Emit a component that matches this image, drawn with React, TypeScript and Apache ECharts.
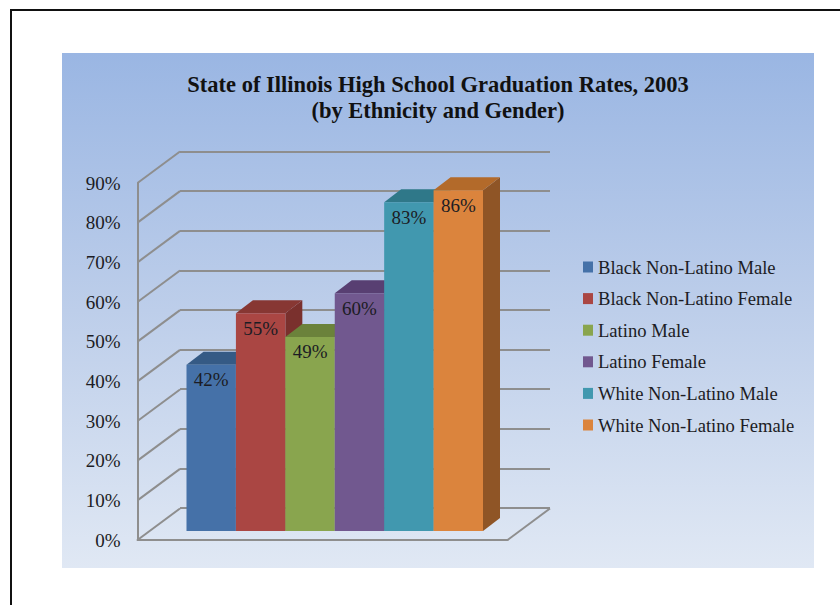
import React, { useEffect, useRef } from "react";
import * as echarts from "echarts";

const titleText = "State of Illinois High School Graduation Rates, 2003\n(by Ethnicity and Gender)";
const groups = [
  "Black Non-Latino Male",
  "Black Non-Latino Female",
  "Latino Male",
  "Latino Female",
  "White Non-Latino Male",
  "White Non-Latino Female",
];
const rates = [42, 55, 49, 60, 83, 86];
const tickValues = [0, 10, 20, 30, 40, 50, 60, 70, 80, 90];
const frontColors = ["#4571A8", "#AA4643", "#89A54E", "#71588F", "#4198AF", "#DB843D"];
const topColors = ["#355A85", "#873733", "#6B823B", "#583F72", "#2F7889", "#B36A2A"];
const sideColors = ["#2F4F76", "#7A302D", "#5F7434", "#4E3866", "#2A6B7A", "#8F5526"];

const FONT = '"Liberation Serif", "Times New Roman", serif';
const GRAY = "#8E8E8E";
const WALL_DX = 42.5;
const WALL_DY = -31.5;
const BAR_DX = 17;
const BAR_DY = -13;

const valueAxisBase = { type: "value", min: 0, max: 90, interval: 10 };

export default function App() {
  const ref = useRef<HTMLDivElement>(null);

  useEffect(() => {
    const chart = echarts.init(ref.current!, null, { renderer: "svg" });

    const barSeries = groups.map((name, i) => ({
      type: "custom",
      name,
      xAxisIndex: 2,
      yAxisIndex: 2,
      z: 5 + i,
      clip: false,
      color: frontColors[i],
      itemStyle: { color: frontColors[i] },
      encode: { x: 0, y: 1 },
      data: [[i, rates[i]]],
      renderItem: (_p: any, api: any) => {
        const v = api.value(1);
        const [cx, top] = api.coord([api.value(0), v]);
        const [, base] = api.coord([api.value(0), 0]);
        const w = api.size([1, 0])[0];
        const x0 = cx - w / 2;
        const x1 = cx + w / 2;
        return {
          type: "group",
          children: [
            {
              type: "polygon",
              shape: { points: [[x1, base], [x1 + BAR_DX, base + BAR_DY], [x1 + BAR_DX, top + BAR_DY], [x1, top]] },
              style: { fill: sideColors[i] },
            },
            {
              type: "polygon",
              shape: { points: [[x0, top], [x0 + BAR_DX, top + BAR_DY], [x1 + BAR_DX, top + BAR_DY], [x1, top]] },
              style: { fill: topColors[i] },
            },
            { type: "rect", shape: { x: x0, y: top, width: w, height: base - top }, style: { fill: frontColors[i] } },
            {
              type: "text",
              x: cx,
              y: top + 15,
              style: {
                text: `${v}%`,
                fill: "#1c1c24",
                font: `19px ${FONT}`,
                align: "center",
                verticalAlign: "middle",
              },
            },
          ],
        };
      },
    }));

    chart.setOption({
      animation: false,
      color: frontColors,
      graphic: [
        {
          type: "rect",
          z: -10,
          shape: { x: 62, y: 53, width: 752, height: 515 },
          style: {
            fill: new echarts.graphic.LinearGradient(0, 0, 0, 1, [
              { offset: 0, color: "#9AB6E3" },
              { offset: 0.5, color: "#BDCEEA" },
              { offset: 1, color: "#E0E8F4" },
            ]),
          },
        },
        { type: "line", z: -10, shape: { x1: 10, y1: 10, x2: 840, y2: 10 }, style: { stroke: "#111", lineWidth: 2 } },
        { type: "line", z: -10, shape: { x1: 11, y1: 10, x2: 11, y2: 605 }, style: { stroke: "#111", lineWidth: 2 } },
      ],
      title: {
        text: titleText,
        left: 433,
        top: 66,
        textAlign: "center",
        textStyle: { fontFamily: FONT, fontSize: 22.5, fontWeight: "bold", color: "#111", lineHeight: 26 },
      },
      legend: {
        orient: "vertical",
        left: 583,
        top: 257,
        padding: 0,
        itemWidth: 10,
        itemHeight: 11,
        itemGap: 11.6,
        icon: "rect",
        data: groups,
        textStyle: { fontFamily: FONT, fontSize: 18.6, color: "#1c1c24", lineHeight: 20 },
      },
      grid: [
        { left: 137.5, top: 183, width: 370, height: 357 },
        { left: 180, top: 151.5, width: 370, height: 356.5 },
        { left: 186.5, top: 174.5, width: 296.5, height: 356.5 },
      ],
      xAxis: [
        {
          type: "category",
          gridIndex: 0,
          data: [""],
          axisLine: { show: true, lineStyle: { color: GRAY, width: 2 } },
          axisTick: { show: false },
          axisLabel: { show: false },
        },
        { type: "category", gridIndex: 1, data: [""], show: false },
        { type: "category", gridIndex: 2, data: groups, show: false },
      ],
      yAxis: [
        {
          ...valueAxisBase,
          gridIndex: 0,
          axisLine: { show: true, lineStyle: { color: GRAY, width: 2 } },
          axisTick: { show: false },
          splitLine: { show: false },
          axisLabel: {
            formatter: "{value}%",
            margin: 17,
            fontFamily: FONT,
            fontSize: 19,
            color: "#1c1c24",
            padding: [4, 0, 0, 0],
          },
        },
        {
          ...valueAxisBase,
          gridIndex: 1,
          axisLine: { show: false },
          axisTick: { show: false },
          axisLabel: { show: false },
          splitLine: { show: true, lineStyle: { color: GRAY, width: 2 } },
        },
        { ...valueAxisBase, gridIndex: 2, show: false, splitLine: { show: false } },
      ],
      series: [
        {
          type: "custom",
          name: "wall",
          xAxisIndex: 0,
          yAxisIndex: 0,
          z: 2,
          clip: false,
          silent: true,
          encode: { y: 0 },
          data: tickValues.map((t) => [t]),
          renderItem: (p: any, api: any) => {
            const [, y] = api.coord([0, api.value(0)]);
            const x = p.coordSys.x;
            const stroke = { stroke: GRAY, lineWidth: 2, fill: "none" };
            const children: any[] = [
              { type: "line", shape: { x1: x, y1: y, x2: x + WALL_DX, y2: y + WALL_DY }, style: stroke },
            ];
            if (api.value(0) === 0) {
              const xr = x + p.coordSys.width;
              children.push({
                type: "line",
                shape: { x1: xr, y1: y, x2: xr + WALL_DX, y2: y + WALL_DY },
                style: stroke,
              });
            }
            return { type: "group", children };
          },
        },
        ...barSeries,
      ],
    });

    return () => chart.dispose();
  }, []);

  return <div ref={ref} style={{ position: "absolute", left: 0, top: 0, width: 840, height: 605 }} />;
}
